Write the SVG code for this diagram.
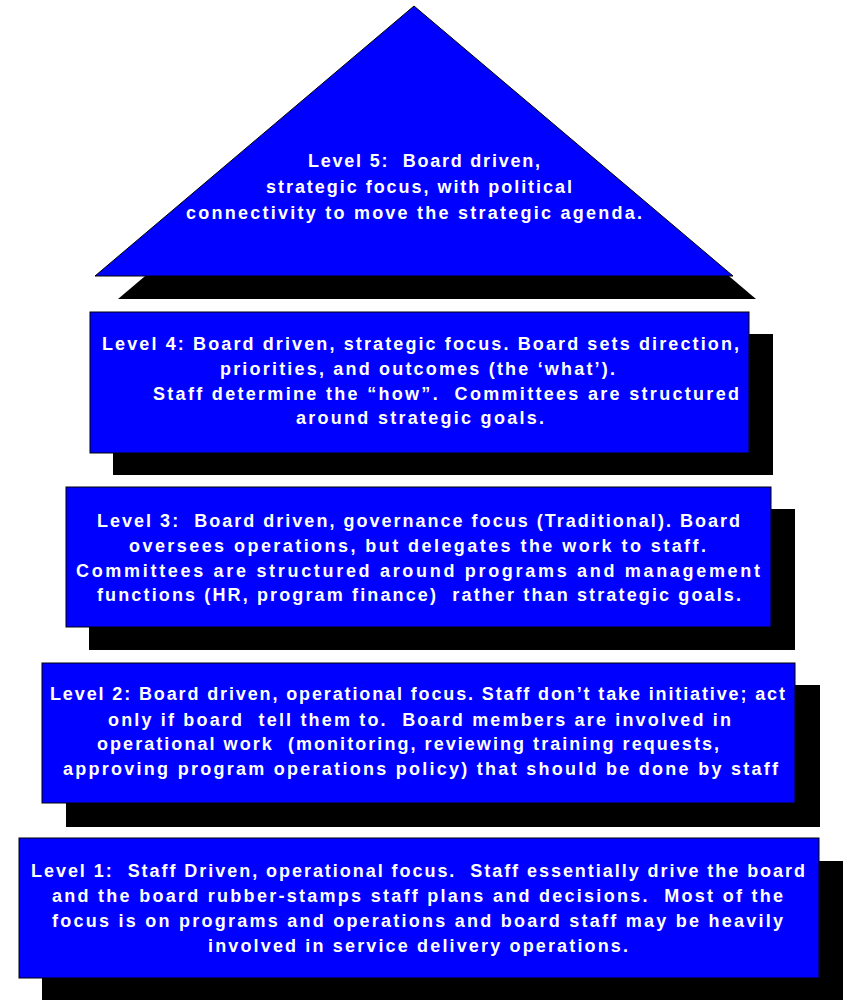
<svg xmlns="http://www.w3.org/2000/svg" width="843" height="1000" viewBox="0 0 843 1000" xml:space="preserve">
<style>
.shadow{fill:#000}
.box{fill:#0000FF;stroke:#000;stroke-width:1}
.t{font-family:"Liberation Sans",Arial,sans-serif;font-weight:bold;font-size:18px;fill:#fff;white-space:pre}
</style>
<rect width="843" height="1000" fill="#fff"/>
<g id="level5">
<polygon class="shadow" points="437,29 118,299 756,299"/>
<polygon class="box" points="414,6 95,276 733,276"/>
<text class="t" x="308" y="167" textLength="232" lengthAdjust="spacing">Level 5:  Board driven,</text>
<text class="t" x="266" y="193" textLength="306" lengthAdjust="spacing">strategic focus, with political</text>
<text class="t" x="186" y="219" textLength="456" lengthAdjust="spacing">connectivity to move the strategic agenda.</text>
</g>
<g id="level4">
<rect class="shadow" x="113" y="334" width="660" height="141"/>
<rect class="box" x="90" y="312" width="659" height="141"/>
<text class="t" x="102" y="350" textLength="637" lengthAdjust="spacing">Level 4: Board driven, strategic focus. Board sets direction,</text>
<text class="t" x="220" y="375" textLength="395" lengthAdjust="spacing">priorities, and outcomes (the ‘what’).</text>
<text class="t" x="153" y="400" textLength="586" lengthAdjust="spacing">Staff determine the “how”.  Committees are structured</text>
<text class="t" x="296" y="424" textLength="248" lengthAdjust="spacing">around strategic goals.</text>
</g>
<g id="level3">
<rect class="shadow" x="89" y="509" width="706" height="141"/>
<rect class="box" x="66" y="487" width="705" height="140"/>
<text class="t" x="97" y="527" textLength="643" lengthAdjust="spacing">Level 3:  Board driven, governance focus (Traditional). Board</text>
<text class="t" x="129" y="552" textLength="577" lengthAdjust="spacing">oversees operations, but delegates the work to staff.</text>
<text class="t" x="76" y="577" textLength="684" lengthAdjust="spacing">Committees are structured around programs and management</text>
<text class="t" x="97" y="601" textLength="644" lengthAdjust="spacing">functions (HR, program finance)  rather than strategic goals.</text>
</g>
<g id="level2">
<rect class="shadow" x="66" y="685" width="754" height="142"/>
<rect class="box" x="42" y="663" width="753" height="140"/>
<text class="t" x="50" y="700" textLength="735" lengthAdjust="spacing">Level 2: Board driven, operational focus. Staff don’t take initiative; act</text>
<text class="t" x="108" y="726" textLength="623" lengthAdjust="spacing">only if board  tell them to.  Board members are involved in</text>
<text class="t" x="97" y="750" textLength="622" lengthAdjust="spacing">operational work  (monitoring, reviewing training requests,</text>
<text class="t" x="63" y="775" textLength="715" lengthAdjust="spacing">approving program operations policy) that should be done by staff</text>
</g>
<g id="level1">
<rect class="shadow" x="42" y="861" width="801" height="139"/>
<rect class="box" x="19" y="838" width="800" height="140"/>
<text class="t" x="31" y="877" textLength="774" lengthAdjust="spacing">Level 1:  Staff Driven, operational focus.  Staff essentially drive the board</text>
<text class="t" x="52" y="902" textLength="731" lengthAdjust="spacing">and the board rubber-stamps staff plans and decisions.  Most of the</text>
<text class="t" x="52" y="927" textLength="731" lengthAdjust="spacing">focus is on programs and operations and board staff may be heavily</text>
<text class="t" x="208" y="952" textLength="420" lengthAdjust="spacing">involved in service delivery operations.</text>
</g>
<g id="connectors"/>
</svg>
